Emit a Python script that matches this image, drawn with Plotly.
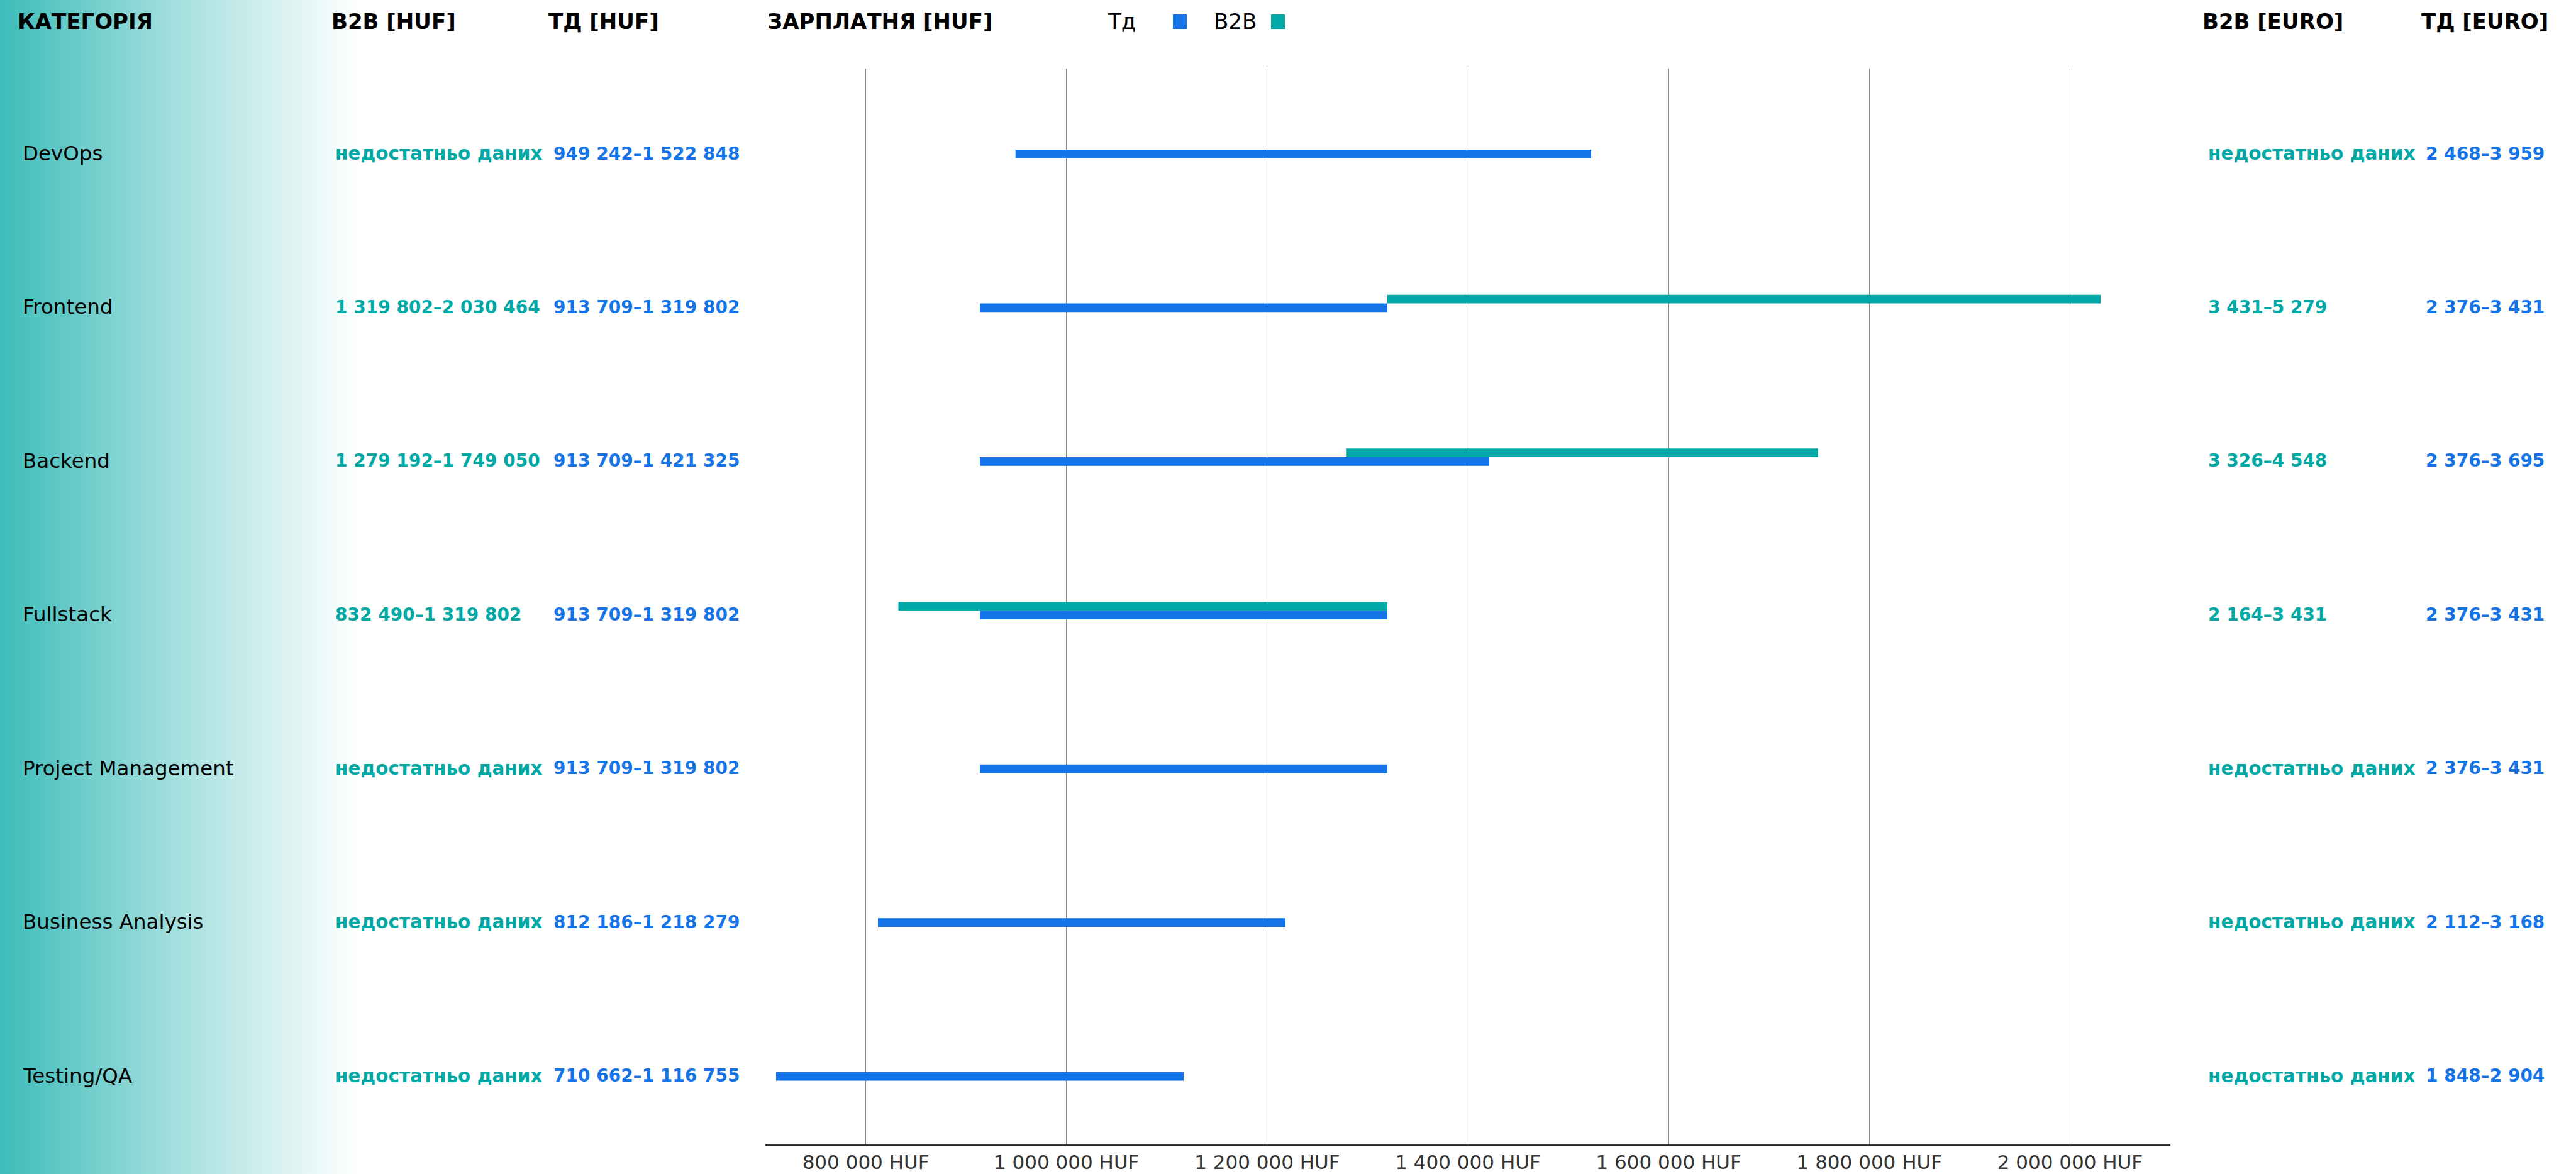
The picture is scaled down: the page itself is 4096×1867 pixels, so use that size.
import base64
import plotly.graph_objects as go

# ---- data -------------------------------------------------------------
categories = ["DevOps", "Frontend", "Backend", "Fullstack",
              "Project Management", "Business Analysis", "Testing/QA"]

td_min = [949242, 913709, 913709, 913709, 913709, 812186, 710662]
td_max = [1522848, 1319802, 1421325, 1319802, 1319802, 1218279, 1116755]

b2b_min = [None, 1319802, 1279192, 832490, None, None, None]
b2b_max = [None, 2030464, 1749050, 1319802, None, None, None]

b2b_eur_min = [None, 3431, 3326, 2164, None, None, None]
b2b_eur_max = [None, 5279, 4548, 3431, None, None, None]
td_eur_min = [2468, 2376, 2376, 2376, 2376, 2112, 1848]
td_eur_max = [3959, 3431, 3695, 3431, 3431, 3168, 2904]

tick_values = [800000, 1000000, 1200000, 1400000, 1600000, 1800000, 2000000]
tick_labels = ["800 000 HUF", "1 000 000 HUF", "1 200 000 HUF", "1 400 000 HUF",
               "1 600 000 HUF", "1 800 000 HUF", "2 000 000 HUF"]

NO_DATA = "недостатньо даних"

# ---- styling ----------------------------------------------------------
BLUE = "#1473E6"
TEAL = "#00A8A8"
TEAL_TXT = "#00A9A5"
FONT = "DejaVu Sans"

W_FIG, H_FIG = 4096, 1867
M_L, M_R, M_T, M_B = 1217, 645, 109, 47
PW = W_FIG - M_L - M_R
PH = H_FIG - M_T - M_B


def px_x(px):
    return (px - M_L) / PW


def px_y(py):
    return 1 + (M_T - py) / PH


def fmt(v):
    return f"{v:,}".replace(",", " ")


def rng(lo, hi):
    if lo is None or hi is None:
        return NO_DATA
    return f"{fmt(lo)}–{fmt(hi)}"


def spans(lo, hi):
    return [None if a is None else b - a for a, b in zip(lo, hi)]


fig = go.Figure()

fig.add_trace(go.Bar(
    y=categories, x=spans(b2b_min, b2b_max), base=b2b_min,
    orientation="h", name="B2B", marker=dict(color=TEAL, line=dict(width=0)),
    showlegend=False, hoverinfo="skip",
))
fig.add_trace(go.Bar(
    y=categories, x=spans(td_min, td_max), base=td_min,
    orientation="h", name="Тд", marker=dict(color=BLUE, line=dict(width=0)),
    showlegend=False, hoverinfo="skip",
))

annotations = []

# column headers
headers = [("КАТЕГОРІЯ", 26), ("B2B [HUF]", 525), ("ТД [HUF]", 870),
           ("ЗАРПЛАТНЯ [HUF]", 1218), ("B2B [EURO]", 3500), ("ТД [EURO]", 3848)]
for text, x in headers:
    annotations.append(dict(
        text=text, x=px_x(x), y=px_y(34), xref="paper", yref="paper",
        xanchor="left", yanchor="middle", showarrow=False,
        font=dict(family=FONT, size=34, color="#000000", weight="bold"),
    ))

# legend
for text, x in [("Тд", 1759), ("B2B", 1928)]:
    annotations.append(dict(
        text=text, x=px_x(x), y=px_y(34), xref="paper", yref="paper",
        xanchor="left", yanchor="middle", showarrow=False,
        font=dict(family=FONT, size=34, color="#000000"),
    ))

shapes = [
    dict(type="rect", xref="paper", yref="paper",
         x0=px_x(1865), x1=px_x(1887), y0=px_y(23), y1=px_y(46),
         fillcolor=BLUE, line=dict(width=0)),
    dict(type="rect", xref="paper", yref="paper",
         x0=px_x(2021), x1=px_x(2043), y0=px_y(23), y1=px_y(46),
         fillcolor=TEAL, line=dict(width=0)),
]

# row texts
for i, cat in enumerate(categories):
    row = [
        (cat, 34, "#000000", "normal"),
        (rng(b2b_min[i], b2b_max[i]), 531, TEAL_TXT, "bold"),
        (rng(td_min[i], td_max[i]), 878, BLUE, "bold"),
        (rng(b2b_eur_min[i], b2b_eur_max[i]), 3509, TEAL_TXT, "bold"),
        (rng(td_eur_min[i], td_eur_max[i]), 3855, BLUE, "bold"),
    ]
    for text, x, color, weight in row:
        if weight == "normal":
            size = 32.5
        elif text == NO_DATA:
            size = 29.5
        else:
            size = 28
        annotations.append(dict(
            text=text, x=px_x(x), y=i, xref="paper", yref="y",
            xanchor="left", yanchor="middle", yshift=-6, showarrow=False,
            font=dict(family=FONT, size=size, color=color, weight=weight),
        ))

# left-side teal fade
svg = (
    '<svg xmlns="http://www.w3.org/2000/svg" width="571" height="1867" '
    'preserveAspectRatio="none">'
    '<defs><linearGradient id="g" x1="0" y1="0" x2="1" y2="0">'
    '<stop offset="0" stop-color="#3CBCB9"/>'
    '<stop offset="0.5" stop-color="#A6E0DF"/>'
    '<stop offset="1" stop-color="#FFFFFF"/>'
    '</linearGradient></defs>'
    '<rect width="571" height="1867" fill="url(#g)"/></svg>'
)
src = "data:image/svg+xml;base64," + base64.b64encode(svg.encode()).decode()

fig.update_layout(
    width=W_FIG, height=H_FIG,
    margin=dict(l=M_L, r=M_R, t=M_T, b=M_B, pad=0, autoexpand=False),
    paper_bgcolor="white", plot_bgcolor="rgba(0,0,0,0)",
    barmode="group", bargap=0.8875, bargroupgap=0,
    annotations=annotations, shapes=shapes,
    images=[dict(source=src, xref="paper", yref="paper",
                 x=px_x(0), y=px_y(0), sizex=571 / PW, sizey=H_FIG / PH,
                 xanchor="left", yanchor="top", sizing="stretch",
                 layer="below")],
    xaxis=dict(
        range=[700000, 2100000], tickvals=tick_values, ticktext=tick_labels,
        showgrid=True, gridcolor="#8a8a8a", gridwidth=1.2,
        showline=True, linecolor="#333333", linewidth=2,
        ticks="", zeroline=False, automargin=False,
        tickfont=dict(family=FONT, size=31, color="#333333"),
    ),
    yaxis=dict(
        type="category", categoryorder="array", categoryarray=categories,
        range=[6.4717, -0.5277], showticklabels=False, showgrid=False,
        showline=False, zeroline=False, ticks="", automargin=False,
    ),
    font=dict(family=FONT),
)

fig.write_html("out.html")
